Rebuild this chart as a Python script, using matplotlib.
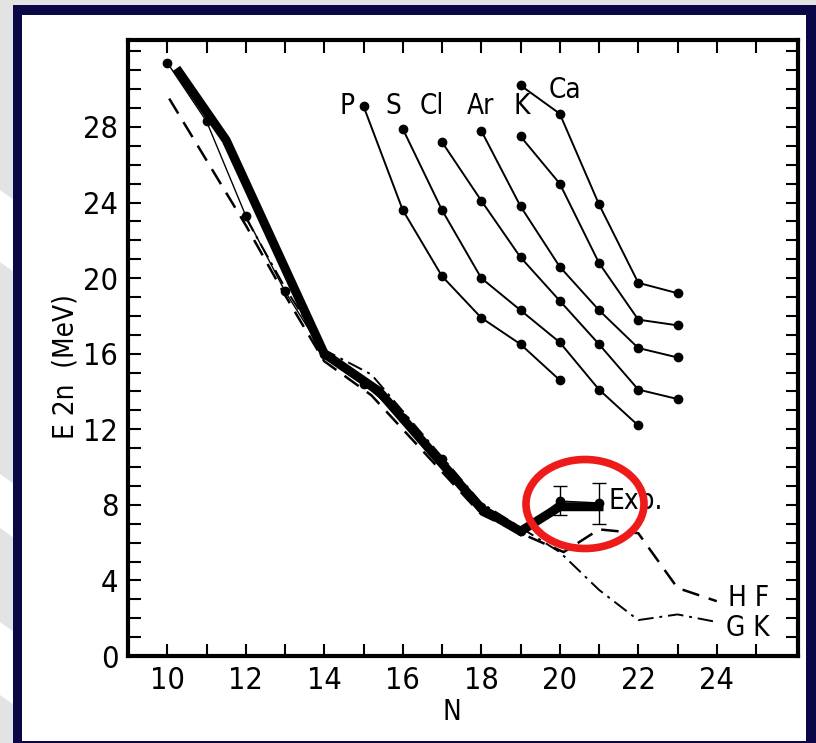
import matplotlib
matplotlib.use("Agg")
import matplotlib.pyplot as plt
from matplotlib.patches import Rectangle, Ellipse, Polygon

# isotope chains: neutron number N and two-neutron separation energy (MeV)
chain_names = ["P", "S", "Cl", "Ar", "K", "Ca"]
chain_n = [
    [15, 16, 17, 18, 19, 20],
    [16, 17, 18, 19, 20, 21, 22],
    [17, 18, 19, 20, 21, 22, 23],
    [18, 19, 20, 21, 22, 23],
    [19, 20, 21, 22, 23],
    [19, 20, 21, 22, 23],
]
chain_e = [
    [29.1, 23.6, 20.1, 17.9, 16.5, 14.6],
    [27.9, 23.6, 20.0, 18.3, 16.6, 14.1, 12.2],
    [27.2, 24.1, 21.1, 18.8, 16.5, 14.1, 13.6],
    [27.8, 23.8, 20.6, 18.3, 16.3, 15.8],
    [27.5, 25.0, 20.8, 17.8, 17.5],
    [30.2, 28.7, 23.9, 19.75, 19.2],
]

# measured values (thin line with dots)
exp_n = [10, 11, 12, 13, 14, 15, 16, 17, 18, 19, 20, 21]
exp_e = [31.4, 28.3, 23.3, 19.3, 16.0, 14.4, 12.6, 10.4, 7.9, 6.6, 8.2, 8.1]
err_n = [20, 21]
err_e = [8.2, 8.1]
err_lo = [0.75, 1.1]
err_hi = [0.8, 1.05]

# thick curve
thick_n = [10.3, 11.5, 14, 15.4, 18, 19, 20, 21]
thick_e = [30.9, 27.3, 16.0, 14.0, 7.8, 6.6, 7.9, 7.9]

# Hartree-Fock (dashed) and GK (dash-dot) predictions
hf_n = [10.05, 12, 13, 14, 15.2, 18, 19, 20.1, 21, 22, 23, 24]
hf_e = [29.5, 22.8, 19.1, 15.6, 13.8, 7.5, 6.5, 5.5, 6.7, 6.5, 3.6, 2.9]
gk_n = [12, 13, 14, 15.2, 18, 19, 20, 21, 22, 23, 24]
gk_e = [23.2, 19.5, 16.2, 14.9, 8.1, 6.8, 5.5, 3.5, 1.9, 2.2, 1.8]

W, H = 816, 743
FONT = ["DejaVu Sans"]


def px(x, y):
    """Pixel position (from top-left) to figure fraction."""
    return x / W, 1 - y / H


def draw_frame(fig):
    """Grey page with light stripes, navy border and white panel behind the plot."""
    fig.patch.set_facecolor("#e3e3e3")
    for top, bot in [(190, 262), (474, 528), (622, 695)]:
        pts = [px(0, top), px(14, top + 10), px(14, bot + 10), px(0, bot)]
        fig.add_artist(Polygon(pts, closed=True, transform=fig.transFigure,
                               facecolor="white", edgecolor="none", zorder=-11))
    x0, y0 = px(13, 743)
    x1, y1 = px(816, 5)
    fig.add_artist(Rectangle((x0, y0), x1 - x0, y1 - y0, transform=fig.transFigure,
                             facecolor="#0b0747", edgecolor="none", zorder=-10))
    x0, y0 = px(22, 741)
    x1, y1 = px(806, 15)
    fig.add_artist(Rectangle((x0, y0), x1 - x0, y1 - y0, transform=fig.transFigure,
                             facecolor="white", edgecolor="none", zorder=-9))


def main():
    plt.rcParams["font.family"] = FONT
    plt.rcParams["font.stretch"] = "condensed"
    fig = plt.figure(figsize=(W / 100, H / 100), dpi=100)
    draw_frame(fig)

    ax = fig.add_axes([128 / W, 87 / H, 670 / W, 616 / H])
    ax.set_facecolor("none")

    # theory curves
    ax.plot(hf_n, hf_e, color="black", lw=1.8, dashes=(7, 4))
    ax.plot(gk_n, gk_e, color="black", lw=1.4, dashes=(8, 3, 1.5, 3))

    # measured
    ax.plot(exp_n, exp_e, color="black", lw=1.0, marker="o", ms=6)
    ax.plot(thick_n, thick_e, color="black", lw=6.5, solid_joinstyle="miter")
    ax.errorbar(err_n, err_e, yerr=[err_lo, err_hi], fmt="none", ecolor="black",
                elinewidth=1.0, capsize=5, capthick=1.0)

    for n, e in zip(chain_n, chain_e):
        ax.plot(n, e, color="black", lw=1.4, marker="o", ms=6)

    # chain labels
    label_pos = [(14.57, 29.1), (15.75, 29.1), (16.75, 29.1), (17.97, 29.1),
                 (19.04, 29.1), (20.13, 29.95)]
    for name, (x, y) in zip(chain_names, label_pos):
        ax.text(x, y, name, fontsize=20, ha="center", va="center")

    ax.text(21.25, 8.2, "Exp.", fontsize=20, ha="left", va="center")
    ax.text(24.8, 3.05, "H F", fontsize=20, ha="center", va="center")
    ax.text(24.8, 1.5, "G K", fontsize=20, ha="center", va="center")

    # highlight around the last two measured points
    ax.add_patch(Ellipse((585 / W, 1 - 504 / H), 118 / W, 89 / H, transform=fig.transFigure,
                         fill=False, edgecolor="#ee1b1b", lw=5.5, zorder=10, clip_on=False))

    ax.set_xlim(9.0, 26.07)
    ax.set_ylim(0, 32.6)
    ax.set_xticks(range(10, 26))
    ax.set_xticklabels([str(v) if v % 2 == 0 else "" for v in range(10, 26)])
    ax.set_yticks(range(0, 33))
    ax.set_yticklabels([str(v) if v % 4 == 0 and v <= 28 else "" for v in range(0, 33)])
    ax.tick_params(direction="in", length=9, width=1.5, labelsize=22, pad=7,
                   top=True, right=True)
    for sp in ax.spines.values():
        sp.set_linewidth(3)

    ax.set_xlabel("N", fontsize=20)
    ax.xaxis.set_label_coords(0.4836, -0.0909)
    ax.set_ylabel("E 2n  (MeV)", fontsize=20)
    ax.yaxis.set_label_coords(-0.093, 0.47)
    ax.xaxis.label.set_va("center")
    ax.yaxis.label.set_va("center")

    fig.savefig("out.png", dpi=100, facecolor=fig.get_facecolor())


if __name__ == "__main__":
    main()
